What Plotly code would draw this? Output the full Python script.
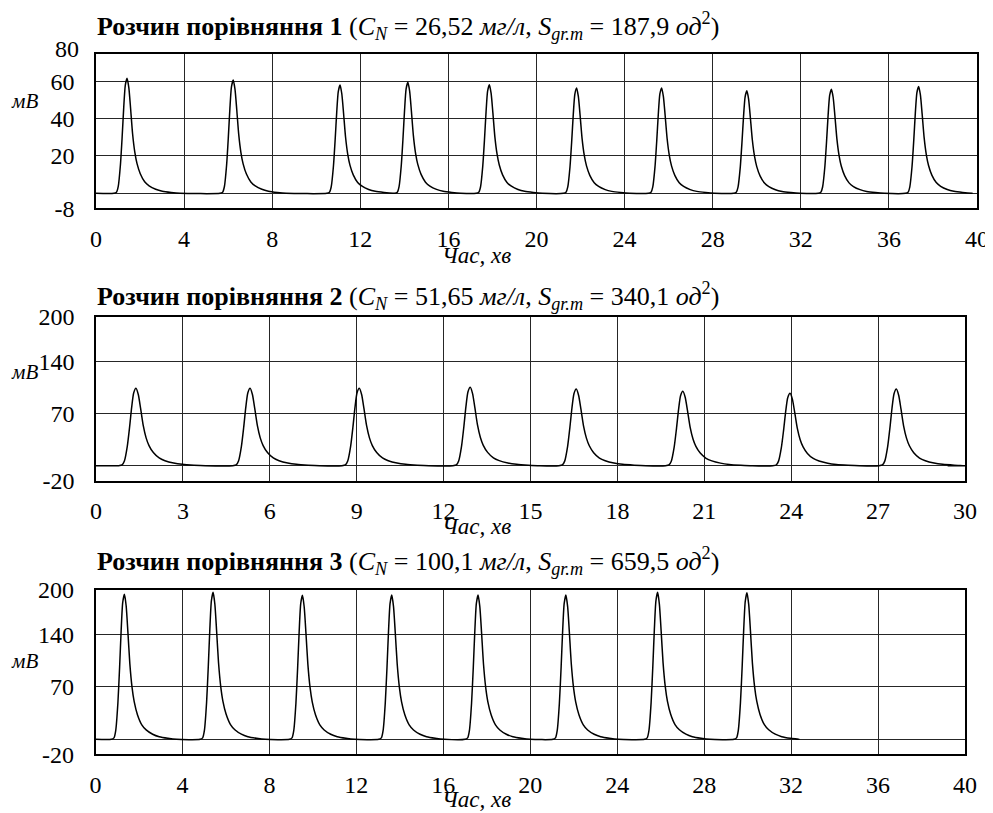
import plotly.graph_objects as go

W, H = 993, 813
PAGE_OFFSET = 8  # default body margin of the html page

# ---- data ----
# peak template: time offset from apex (min) and fraction of peak height
PEAK_DT = [-0.6, -0.48, -0.4, -0.3, -0.22, -0.15, -0.08, 0.0, 0.08, 0.16, 0.25,
           0.35, 0.45, 0.6, 0.8, 1.0, 1.3, 1.6, 2.0, 2.4]
PEAK_FRAC = [0.0, 0.01, 0.06, 0.25, 0.5, 0.75, 0.94, 1.0, 0.92, 0.74, 0.52,
             0.36, 0.26, 0.17, 0.10, 0.065, 0.035, 0.018, 0.007, 0.0]

P1_TIMES = [1.41, 6.23, 11.08, 14.16, 17.86, 21.82, 25.68, 29.55, 33.39, 37.35]
P1_HEIGHTS = [61.6, 60.7, 58.0, 59.5, 58.2, 56.4, 56.5, 54.9, 55.8, 57.3]
P1_SPAN = [0, 39.8]

P2_TIMES = [1.38, 5.32, 9.09, 12.92, 16.58, 20.26, 23.96, 27.63]
P2_HEIGHTS = [104.1, 104.1, 104.1, 105.4, 103.1, 100.0, 97.3, 103.1]
P2_SPAN = [0, 29.4]

P3_TIMES = [1.33, 5.41, 9.52, 13.63, 17.6, 21.64, 25.86, 29.97]
P3_HEIGHTS = [193.8, 196.4, 192.4, 192.6, 192.6, 192.6, 196.2, 195.7]
P3_SPAN = [0, 32.2]

Y1_TICKVALS = [-8, 0, 20, 40, 60]
Y1_TICKTEXT = ["-8", "", "20", "40", "60"]
Y1_TOP_LABEL = "80"
Y23_TICKVALS = [-20, 0, 70, 140, 200]
Y23_TICKTEXT = ["-20", "", "70", "140", "200"]

TITLES = [
    "<b>Розчин порівняння 1</b> (<i>C</i><sub><i>N</i></sub> = 26,52 <i>мг/л</i>, "
    "<i>S</i><sub><i>gr.m</i></sub> = 187,9 <i>од</i><sup>2</sup>)",
    "<b>Розчин порівняння 2</b> (<i>C</i><sub><i>N</i></sub> = 51,65 <i>мг/л</i>, "
    "<i>S</i><sub><i>gr.m</i></sub> = 340,1 <i>од</i><sup>2</sup>)",
    "<b>Розчин порівняння 3</b> (<i>C</i><sub><i>N</i></sub> = 100,1 <i>мг/л</i>, "
    "<i>S</i><sub><i>gr.m</i></sub> = 659,5 <i>од</i><sup>2</sup>)",
]
Y_LABEL = "мВ"
X_LABEL = "Час, хв"


def build(times, heights, span):
    xs, ys = [span[0]], [0.0]
    for t, h in zip(times, heights):
        for dt, f in zip(PEAK_DT, PEAK_FRAC):
            xs.append(t + dt)
            ys.append(h * f)
    xs.append(span[1])
    ys.append(0.0)
    return xs, ys


def fx(px):
    return (px - PAGE_OFFSET) / W


def fy(py):
    return 1 - (py - PAGE_OFFSET) / H


FONT = "Liberation Serif, Times New Roman, serif"

fig = go.Figure()
series = [(P1_TIMES, P1_HEIGHTS, P1_SPAN), (P2_TIMES, P2_HEIGHTS, P2_SPAN),
          (P3_TIMES, P3_HEIGHTS, P3_SPAN)]
for i, (t, h, s) in enumerate(series):
    xs, ys = build(t, h, s)
    sfx = "" if i == 0 else str(i + 1)
    fig.add_trace(go.Scatter(x=xs, y=ys, mode="lines",
                             line=dict(color="black", width=1.5, shape="spline", smoothing=0.6),
                             xaxis="x" + sfx, yaxis="y" + sfx, showlegend=False,
                             hoverinfo="skip"))

axis_common = dict(showline=True, mirror=True, linecolor="black", linewidth=1.5,
                   showgrid=True, gridcolor="#262626", gridwidth=1.4, zeroline=False,
                   ticks="", automargin=False,
                   tickfont=dict(family=FONT, size=24, color="black"))

# pixel geometry of the three plot areas (as seen in the reference)
boxes = [
    dict(x0=96, x1=977, y0=54.3, y1=208.2),
    dict(x0=96, x1=965, y0=317, y1=480.6),
    dict(x0=95.5, x1=965, y0=589.5, y1=754.3),
]
xranges = [[0, 40], [0, 30], [0, 40]]
xdticks = [4, 3, 4]
yranges = [[-8, 74.5], [-20, 200], [-20, 200]]
ytv = [Y1_TICKVALS, Y23_TICKVALS, Y23_TICKVALS]
ytt = [Y1_TICKTEXT, Y23_TICKTEXT, Y23_TICKTEXT]

layout = dict(width=W, height=H,
              margin=dict(l=0, r=0, t=0, b=0, pad=0, autoexpand=False),
              plot_bgcolor="white", paper_bgcolor="white", showlegend=False)
for i, b in enumerate(boxes):
    sfx = "" if i == 0 else str(i + 1)
    layout["xaxis" + sfx] = dict(axis_common, domain=[fx(b["x0"]), fx(b["x1"])],
                                 range=xranges[i], dtick=xdticks[i], tick0=0,
                                 anchor="y" + sfx, ticklabelstandoff=8)
    layout["yaxis" + sfx] = dict(axis_common, domain=[fy(b["y1"]), fy(b["y0"])],
                                 range=yranges[i], tickmode="array",
                                 tickvals=ytv[i], ticktext=ytt[i],
                                 anchor="x" + sfx, ticklabelstandoff=15)
fig.update_layout(**layout)

# top label of the first value axis, sitting just above the frame as in the picture
fig.add_annotation(xref="paper", yref="paper", x=fx(81), y=fy(49),
                   xanchor="right", yanchor="middle", showarrow=False,
                   text=Y1_TOP_LABEL, font=dict(family=FONT, size=24, color="black"))

title_y = [26, 296, 561]
ylab_y = [101, 372, 661]
xlab_y = [256, 526, 799]
for i in range(3):
    fig.add_annotation(xref="paper", yref="paper", x=fx(95), y=fy(title_y[i]),
                       xanchor="left", yanchor="middle", showarrow=False,
                       text=TITLES[i], font=dict(family=FONT, size=26, color="black"))
    fig.add_annotation(xref="paper", yref="paper", x=fx(24), y=fy(ylab_y[i]),
                       xanchor="center", yanchor="middle", showarrow=False,
                       text="<i>" + Y_LABEL + "</i>", font=dict(family=FONT, size=21, color="black"))
    fig.add_annotation(xref="paper", yref="paper", x=fx(476), y=fy(xlab_y[i]),
                       xanchor="center", yanchor="middle", showarrow=False,
                       text="<i>" + X_LABEL + "</i>", font=dict(family=FONT, size=23, color="black"))

fig.write_html("out.html")
